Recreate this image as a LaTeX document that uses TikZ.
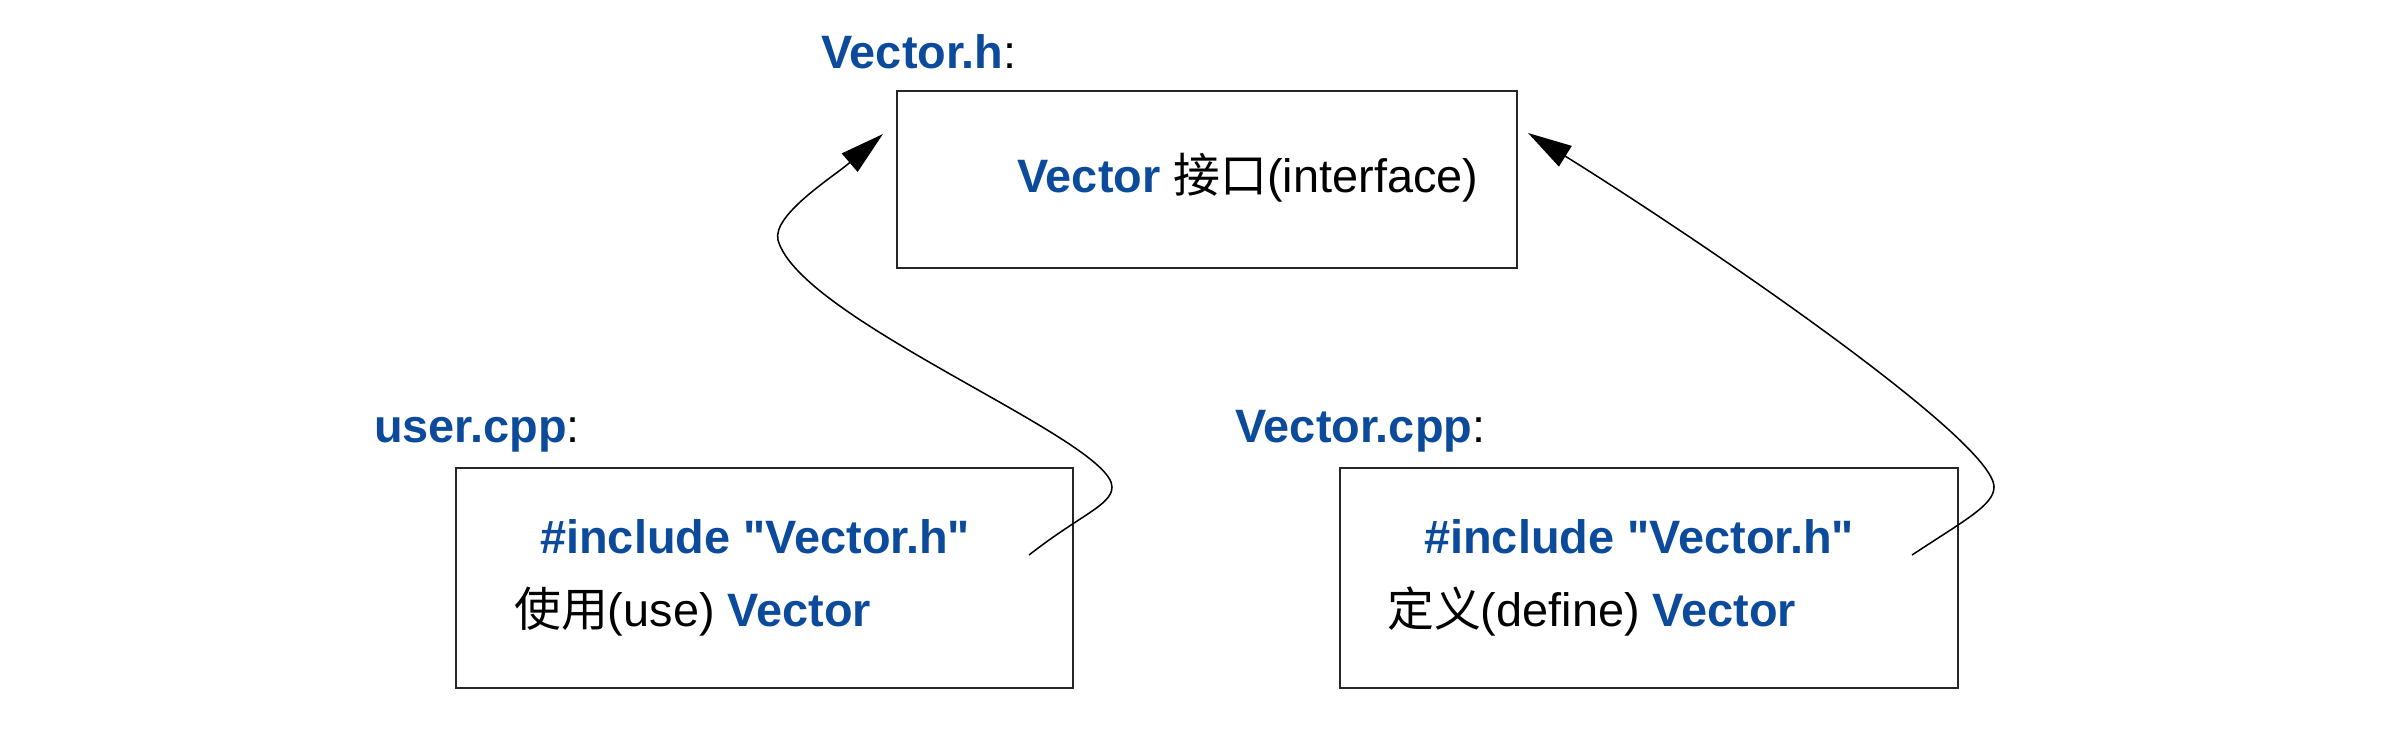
\documentclass[tikz,border=0pt]{standalone}
\usepackage{fontspec}
\setmainfont{Liberation Sans}[Ligatures=TeXOff]
\newfontfamily\cjk{Noto Sans CJK SC}
\usetikzlibrary{arrows.meta}
\definecolor{vblue}{RGB}{12,75,155}
\newcommand\blu[1]{{\bfseries\color{vblue}#1}}
\begin{document}
\begin{tikzpicture}[x=0.03cm, y=-0.03cm,
  box/.style={draw=black!85, line width=1.4pt, inner sep=0pt, anchor=north west},
  lbl/.style={inner sep=0pt, anchor=base west, font=\fontsize{40}{48}\selectfont},
  link/.style={line width=1.3pt, -{Triangle[length=1.32cm, width=0.72cm]}}]
\fill[white] (0,0) rectangle (2408,744);
\useasboundingbox (0,0) rectangle (2408,744);

% boxes
\node[box, minimum width=18.6cm, minimum height=5.31cm] (top) at (896,90) {};
\node[box, minimum width=18.51cm, minimum height=6.6cm] (user) at (455,467) {};
\node[box, minimum width=18.54cm, minimum height=6.6cm] (vcpp) at (1339,467) {};

% titles
\node[lbl] (th) at (821,68) {\blu{Vector.h}:};
\node[lbl] (tu) at (374,442) {\blu{user.cpp}:};
\node[lbl] (tv) at (1235,442) {\blu{Vector.cpp}:};

% contents
\node[lbl] (ti) at (1017,192) {\blu{Vector} {\cjk 接口}(interface)};
\node[lbl] (ui) at (540,553) {\blu{\#include "Vector.h"}};
\node[lbl] (uu) at (514,626) {{\cjk 使用}(use) \blu{Vector}};
\node[lbl] (vi) at (1424,553) {\blu{\#include "Vector.h"}};
\node[lbl] (vd) at (1387,626) {{\cjk 定义}(define) \blu{Vector}};

% connector ends
\coordinate (uStart) at (1029,555);
\coordinate (uEnd) at (883,134);
\coordinate (vStart) at (1912,555);
\coordinate (vEnd) at (1528,133);

\draw[link] (uStart) .. controls (1080,515) and (1112,505) .. (1112,487)
  .. controls (1112,440) and (800,320) .. (778,240)
  .. controls (772,215) and (833,177) .. (uEnd);
\draw[link] (vStart) .. controls (1965,520) and (1994,505) .. (1994,487)
  .. controls (1994,440) and (1700,240) .. (vEnd);
\end{tikzpicture}
\end{document}
